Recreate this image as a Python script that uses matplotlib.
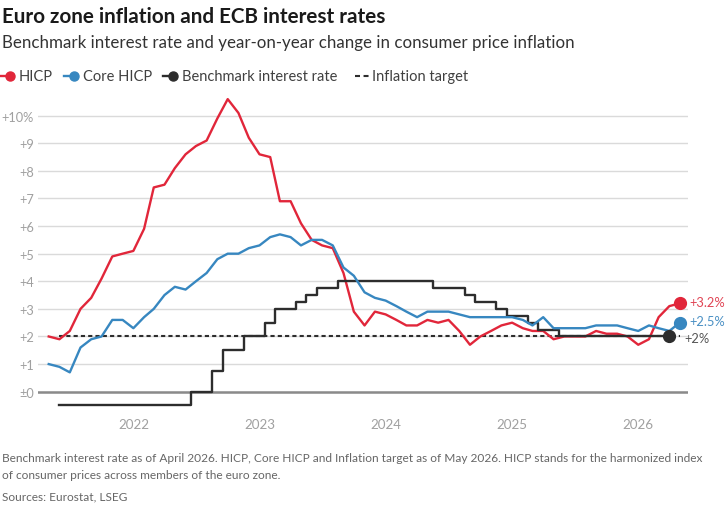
import matplotlib.pyplot as plt
import pandas as pd
from matplotlib.lines import Line2D

plt.rcParams['font.family'] = ['Lato', 'DejaVu Sans']

#%% data
months = pd.date_range('2021-05-01', '2026-05-01', freq='MS')

hicp = [2.0, 1.9, 2.2, 3.0, 3.4, 4.1, 4.9, 5.0, 5.1, 5.9,
        7.4, 7.5, 8.1, 8.6, 8.9, 9.1, 9.9, 10.6, 10.1, 9.2,
        8.6, 8.5, 6.9, 6.9, 6.1, 5.5, 5.3, 5.2, 4.3, 2.9,
        2.4, 2.9, 2.8, 2.6, 2.4, 2.4, 2.6, 2.5, 2.6, 2.2,
        1.7, 2.0, 2.2, 2.4, 2.5, 2.3, 2.2, 2.2, 1.9, 2.0,
        2.0, 2.0, 2.2, 2.1, 2.1, 2.0, 1.7, 1.9, 2.7, 3.1, 3.2]

core_hicp = [1.0, 0.9, 0.7, 1.6, 1.9, 2.0, 2.6, 2.6, 2.3, 2.7,
             3.0, 3.5, 3.8, 3.7, 4.0, 4.3, 4.8, 5.0, 5.0, 5.2,
             5.3, 5.6, 5.7, 5.6, 5.3, 5.5, 5.5, 5.3, 4.5, 4.2,
             3.6, 3.4, 3.3, 3.1, 2.9, 2.7, 2.9, 2.9, 2.9, 2.8,
             2.7, 2.7, 2.7, 2.7, 2.7, 2.6, 2.4, 2.7, 2.3, 2.3,
             2.3, 2.3, 2.4, 2.4, 2.4, 2.3, 2.2, 2.4, 2.3, 2.2, 2.5]

rate_months = pd.date_range('2021-06-01', '2026-04-01', freq='MS')
rate = ([-0.5] * 13 + [0.0] * 2 + [0.75] + [1.5] * 2 + [2.0] * 2 + [2.5]
        + [3.0] * 2 + [3.25] + [3.5] + [3.75] * 2 + [4.0] * 9
        + [3.75] * 3 + [3.5] + [3.25] * 2 + [3.0] + [2.75] * 2 + [2.5]
        + [2.25] * 2 + [2.0] * 11)

target_months = pd.to_datetime(['2021-06-01', '2026-05-01'])
target = [2.0, 2.0]

year_ticks = pd.to_datetime(['2022-01-01', '2023-01-01', '2024-01-01', '2025-01-01', '2026-01-01'])
year_labels = ['2022', '2023', '2024', '2025', '2026']
y_ticks = list(range(0, 11))
y_labels = ['±0', '+1', '+2', '+3', '+4', '+5', '+6', '+7', '+8', '+9', '+10%']

RED = '#e1263a'
BLUE = '#3787c0'
BLACK = '#2d2d2d'
GREY = '#a0a0a0'

#%% figure
W, H = 727, 506
fig = plt.figure(figsize=(W / 100, H / 100), dpi=100)
ax = fig.add_axes([38 / W, (H - 412) / H, 650 / W, 317.4 / H])

ax.plot(target_months, target, color=BLACK, lw=1.5, ls=(0, (2.0, 1.5)), zorder=2)
ax.plot(months, hicp, color=RED, lw=1.7, zorder=3)
ax.plot(rate_months, rate, color=BLACK, lw=1.7, drawstyle='steps-mid', zorder=4)
ax.plot(months, core_hicp, color=BLUE, lw=1.7, zorder=5)

ax.plot(months[-1], hicp[-1], 'o', color=RED, ms=8.5, zorder=6, clip_on=False)
ax.plot(months[-1], core_hicp[-1], 'o', color=BLUE, ms=8.5, zorder=6, clip_on=False)
ax.plot(rate_months[-1], rate[-1], 'o', color=BLACK, ms=8.5, zorder=6, clip_on=False)

ax.annotate('+{:.1f}%'.format(hicp[-1]), (months[-1], hicp[-1]), xytext=(7, 1),
            textcoords='offset points', va='center', color='#e04454', fontsize=9.3)
ax.annotate('+{:.1f}%'.format(core_hicp[-1]), (months[-1], core_hicp[-1]), xytext=(7, 1),
            textcoords='offset points', va='center', color='#4a90c4', fontsize=9.3)
ax.annotate('+{:.0f}%'.format(rate[-1]), (rate_months[-1], rate[-1]), xytext=(11, -1),
            textcoords='offset points', va='center', color='#555555', fontsize=9.3)

ax.set_ylim(-0.7, 10.8)
ax.set_xlim(pd.Timestamp('2021-03-31'), pd.Timestamp('2026-05-25'))
ax.set_yticks(y_ticks)
ax.set_yticklabels(y_labels)
ax.set_xticks(year_ticks)
ax.set_xticklabels(year_labels)
ax.yaxis.grid(True, color='#dadada', lw=1)
ax.set_axisbelow(True)
ax.axhline(0, color='#8a8a8a', lw=1.8, zorder=1)
for s in ax.spines.values():
    s.set_visible(False)
ax.tick_params(axis='both', length=0, colors=GREY)
ax.tick_params(axis='y', pad=3, labelsize=9.2)
ax.tick_params(axis='x', pad=5, labelsize=9.6)

#%% titles, legend, notes
def fx(px):
    return px / W

def fy(py):
    return 1 - py / H

fig.text(fx(2), fy(17), 'Euro zone inflation and ECB interest rates', fontsize=14.9,
         fontweight='bold', color='#1a1a1a', va='center')
fig.text(fx(2), fy(43), 'Benchmark interest rate and year-on-year change in consumer price inflation',
         fontsize=12.2, color='#333333', va='center')

leg_y = fy(77)
entries = [(0, RED, 'HICP'), (64, BLUE, 'Core HICP'), (163, BLACK, 'Benchmark interest rate')]
for x0, c, label in entries:
    fig.add_artist(Line2D([fx(x0), fx(x0 + 10)], [leg_y, leg_y], color=c, lw=1.7,
                          transform=fig.transFigure))
    fig.add_artist(Line2D([fx(x0 + 10)], [leg_y], marker='o', ms=6.5, color=c,
                          transform=fig.transFigure))
    fig.text(fx(x0 + 19), leg_y, label, fontsize=10.5, color='#404040', va='center')
fig.add_artist(Line2D([fx(355), fx(368.5)], [leg_y, leg_y], color=BLACK, lw=1.5,
                      ls=(0, (2.4, 1.7)), transform=fig.transFigure))
fig.text(fx(372), leg_y, 'Inflation target', fontsize=10.5, color='#404040', va='center')

fig.text(fx(2), fy(467), 'Benchmark interest rate as of April 2026. HICP, Core HICP and Inflation target as of May 2026. '
         'HICP stands for the harmonized index\nof consumer prices across members of the euro zone.',
         fontsize=8.6, color='#666666', va='center', linespacing=1.6)
fig.text(fx(2), fy(497), 'Sources: Eurostat, LSEG', fontsize=8.6, color='#666666', va='center')

fig.savefig('out.png', dpi=100)
